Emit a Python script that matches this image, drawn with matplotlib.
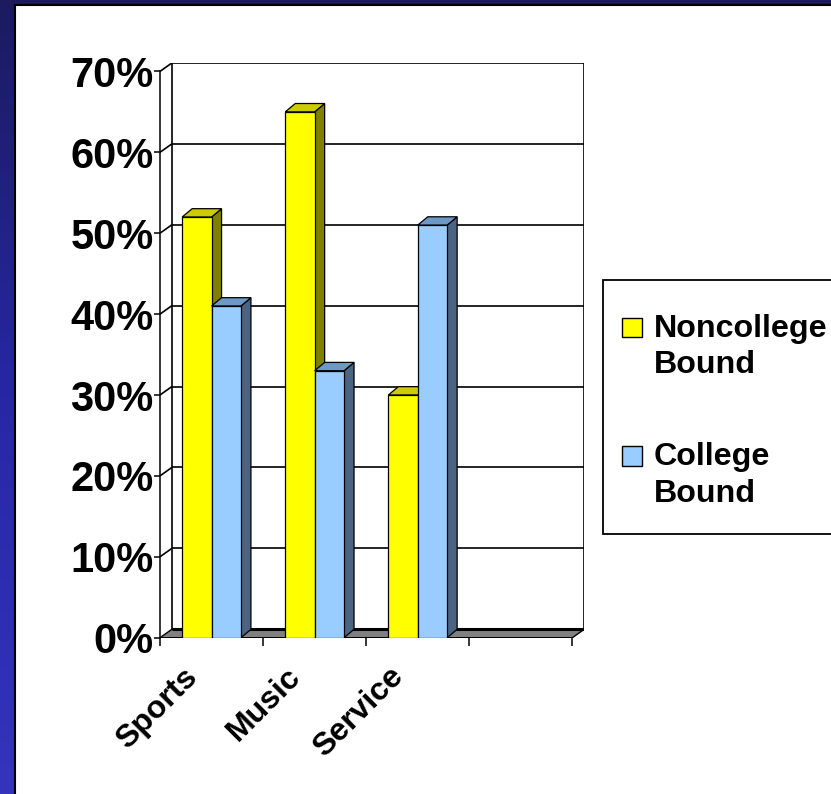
import matplotlib
matplotlib.use("Agg")
import matplotlib.pyplot as plt
import numpy as np
from matplotlib.patches import Polygon, Rectangle
from matplotlib.colors import LinearSegmentedColormap
from matplotlib.transforms import ScaledTranslation

# ---- data -------------------------------------------------------------
categories = ["Sports", "Music", "Service"]
noncollege_bound = [52, 65, 30]
college_bound = [41, 33, 51]
series_names = ["Noncollege\nBound", "College\nBound"]
y_ticks = [0, 10, 20, 30, 40, 50, 60, 70]
y_tick_labels = ["0%", "10%", "20%", "30%", "40%", "50%", "60%", "70%"]

# ---- style ------------------------------------------------------------
FONT = "Liberation Sans"
N_SLOTS = 4                      # category slots on the floor (last one empty)
BAR_W = 0.285                    # bar width, in slot units
WALL_DX, WALL_DY = 0.116, 1.05   # depth of the chart box (x slots, y %)
BAR_DX, BAR_DY = 0.097, 1.03     # depth of each column
Y_MAX = 70

faces = {
    "yellow": ("#FFFF00", "#CCCC00", "#808000"),
    "blue": ("#99CCFF", "#6E99C6", "#4C6482"),
}
series_colors = ["yellow", "blue"]

W, H = 831, 794
fig = plt.figure(figsize=(W / 100, H / 100), dpi=100)

# ---- slide background -------------------------------------------------
bg = fig.add_axes([0, 0, 1, 1], zorder=-10)
bg.set_xlim(0, W)
bg.set_ylim(H, 0)
bg.axis("off")
cmap = LinearSegmentedColormap.from_list(
    "slide", [(0, "#1b1b5e"), (0.5, "#2727a6"), (1, "#3434bd")])
grad = np.linspace(0, 1, 256).reshape(-1, 1)
bg.imshow(grad, cmap=cmap, extent=[0, W, H, 0], aspect="auto", zorder=0)
bg.add_patch(Rectangle((15, 5), W, H, facecolor="white",
                       edgecolor="black", lw=1.5, zorder=1))

# ---- legend (drawn on the slide layer) ---------------------------------
bg.add_patch(Rectangle((603, 280), 260, 254, facecolor="white",
                       edgecolor="black", lw=1.3, zorder=2))
legend_tops = [315, 443.5]
for name, key, top in zip(series_names, series_colors, legend_tops):
    bg.add_patch(Rectangle((622, top + 2.5), 20, 19.5, facecolor=faces[key][0],
                           edgecolor="black", lw=1.0, zorder=3))
    bg.text(654, top - 1, name, fontsize=23.2, fontweight="bold",
            family=FONT, ha="left", va="top", linespacing=1.27, zorder=3)

# ---- chart axes ---------------------------------------------------------
x0_px, y0_px = 160, 637.7
slot_px, pct_px = 103.1, 8.09
ax_w = (N_SLOTS + WALL_DX) * slot_px
ax_h = (Y_MAX + WALL_DY) * pct_px
ax = fig.add_axes([x0_px / W, (H - y0_px) / H, ax_w / W, ax_h / H])
ax.set_xlim(0, N_SLOTS + WALL_DX)
ax.set_ylim(0, Y_MAX + WALL_DY)
ax.patch.set_alpha(0)
for s in ("top", "right", "bottom"):
    ax.spines[s].set_visible(False)
ax.spines["left"].set_bounds(0, Y_MAX)
ax.spines["left"].set_linewidth(1.1)
ax.spines["left"].set_zorder(5)

ax.set_yticks(y_ticks)
ax.set_yticklabels(y_tick_labels, fontsize=30, fontweight="bold", family=FONT)
ax.tick_params(axis="y", length=4.4, width=1.1, pad=0.3, color="black")
ax.set_xticks(np.arange(N_SLOTS + 1))
ax.set_xticklabels([])
ax.tick_params(axis="x", length=6, width=1.1, color="black")

line_kw = dict(color="black", lw=1.2, solid_capstyle="butt")

# floor
floor = Polygon([(0, 0), (N_SLOTS, 0), (N_SLOTS + WALL_DX, WALL_DY),
                 (WALL_DX, WALL_DY)], closed=True, facecolor="#808080",
                edgecolor="black", lw=1.0, zorder=1)
ax.add_patch(floor)
ax.plot([WALL_DX, N_SLOTS + WALL_DX], [WALL_DY, WALL_DY], color="black",
        lw=2.2, zorder=1.2, solid_capstyle="butt")

# back wall gridlines and side-wall diagonals
for v in y_ticks[1:]:
    ax.plot([WALL_DX, N_SLOTS + WALL_DX], [v + WALL_DY, v + WALL_DY],
            zorder=1.5, **line_kw)
    ax.plot([0, WALL_DX], [v, v + WALL_DY], zorder=1.5, **line_kw)
ax.plot([WALL_DX, WALL_DX], [WALL_DY, Y_MAX + WALL_DY], zorder=1.5, **line_kw)
ax.plot([N_SLOTS + WALL_DX] * 2, [WALL_DY, Y_MAX + WALL_DY], zorder=1.5,
        **line_kw)

# 3-D columns: front face via bar(), top and side faces as polygons
z = 3
for i in range(len(categories)):
    for j, vals in enumerate([noncollege_bound, college_bound]):
        front, top, side = faces[series_colors[j]]
        xl = i + 0.5 - BAR_W + j * BAR_W
        v = vals[i]
        ax.add_patch(Polygon([(xl + BAR_W, 0), (xl + BAR_W + BAR_DX, BAR_DY),
                              (xl + BAR_W + BAR_DX, v + BAR_DY), (xl + BAR_W, v)],
                             closed=True, facecolor=side, edgecolor="black",
                             lw=0.9, zorder=z))
        ax.add_patch(Polygon([(xl, v), (xl + BAR_W, v),
                              (xl + BAR_W + BAR_DX, v + BAR_DY),
                              (xl + BAR_DX, v + BAR_DY)],
                             closed=True, facecolor=top, edgecolor="black",
                             lw=0.9, zorder=z))
        ax.bar([xl], [v], width=BAR_W, align="edge", color=front,
               edgecolor="black", lw=0.9, zorder=z + 0.1)
        z += 1

# category labels, rotated 45 degrees
offset = ScaledTranslation(-0.29, -0.24, fig.dpi_scale_trans)
for i, name in enumerate(categories):
    ax.text(i + 0.5, 0, name, transform=ax.transData + offset,
            rotation=45, rotation_mode="anchor", ha="right", va="top",
            fontsize=23, fontweight="bold", family=FONT, clip_on=False)

fig.savefig("out.png", dpi=100)
